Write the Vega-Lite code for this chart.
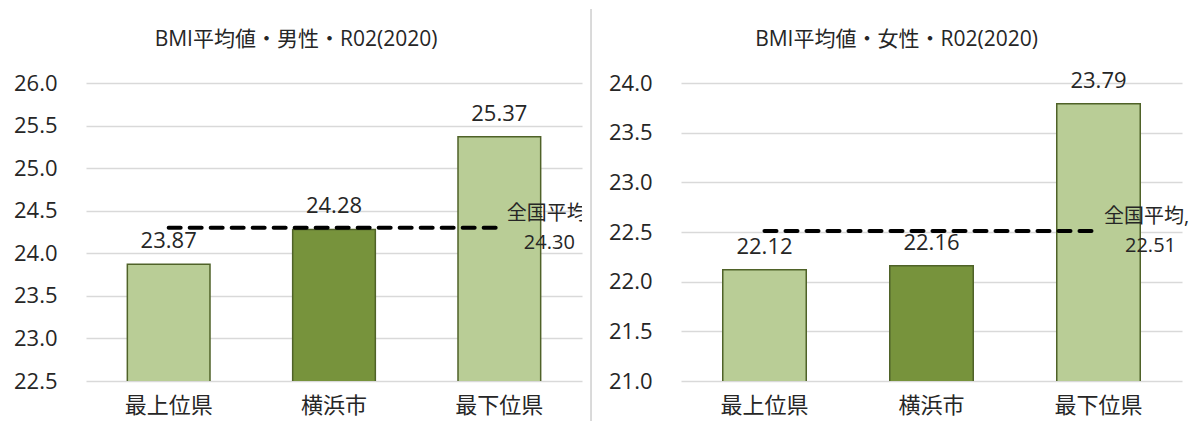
{
  "$schema": "https://vega.github.io/schema/vega-lite/v6.json",
  "autosize": {"type": "pad"},
  "padding": {"left": 13, "top": 8, "right": 0, "bottom": 0},
  "bounds": "flush",
  "spacing": 99,
  "config": {
    "font": "Open Sans, 'Noto Sans CJK JP'",
    "view": {"stroke": null},
    "axis": {"labelColor": "#262626", "domain": false, "ticks": false, "gridColor": "#D9D9D9", "gridWidth": 1.5, "labelFont": "Open Sans, 'Noto Sans CJK JP'"},
    "axisY": {"labelFontSize": 22, "labelPadding": 29, "grid": true},
    "axisX": {"labelFontSize": 22, "labelPadding": 14, "labelAngle": 0, "grid": false},
    "title": {"fontSize": 21, "fontWeight": "normal", "color": "#262626", "font": "Open Sans, 'Noto Sans CJK JP'", "baseline": "alphabetic"}
  },
  "hconcat": [
    {
      "width": 496,
      "height": 298,
      "title": {"text": "BMI平均値・男性・R02(2020)", "dx": -38, "offset": -42},
      "data": {"values": [
        {"cat": "最上位県", "value": 23.87, "avg": 24.30},
        {"cat": "横浜市", "value": 24.28, "avg": 24.30},
        {"cat": "最下位県", "value": 25.37, "avg": 24.30}
      ]},
      "resolve": {"scale": {"x": "independent"}},
      "layer": [
        {
          "encoding": {
            "x": {"field": "cat", "type": "nominal", "sort": ["最上位県", "横浜市", "最下位県"], "scale": {"paddingInner": 0.5, "paddingOuter": 0.25}, "title": null}
          },
          "layer": [
            {
              "mark": {"type": "bar", "stroke": "#4F6228", "strokeWidth": 1.5, "clip": true},
              "encoding": {
                "y": {"field": "value", "type": "quantitative", "scale": {"domain": [22.5, 26], "nice": false, "zero": false}, "axis": {"format": ".1f", "tickCount": 8}, "title": null},
                "color": {"field": "cat", "type": "nominal", "scale": {"domain": ["最上位県", "横浜市", "最下位県"], "range": ["#B9CD96", "#77933C", "#B9CD96"]}, "legend": null}
              }
            },
            {
              "mark": {"type": "text", "baseline": "alphabetic", "dy": -16, "fontSize": 22, "color": "#262626"},
              "encoding": {
                "y": {"field": "value", "type": "quantitative", "title": null},
                "text": {"field": "value", "type": "quantitative", "format": ".2f"}
              }
            },
            {
              "mark": {"type": "line", "strokeDash": [12, 9], "strokeCap": "round", "strokeWidth": 4, "color": "#000000"},
              "encoding": {
                "y": {"field": "avg", "type": "quantitative", "title": null}
              }
            },
            {
              "transform": [{"filter": {"field": "cat", "equal": "最下位県"}}],
              "mark": {"type": "text", "dx": 50, "dy": -14, "fontSize": 20, "color": "#262626", "clip": true},
              "encoding": {
                "y": {"field": "avg", "type": "quantitative", "title": null},
                "text": {"value": "全国平均,"}
              }
            },
            {
              "transform": [{"filter": {"field": "cat", "equal": "最下位県"}}],
              "mark": {"type": "text", "dx": 50, "dy": 15, "fontSize": 20, "color": "#262626", "clip": true},
              "encoding": {
                "y": {"field": "avg", "type": "quantitative", "title": null},
                "text": {"field": "avg", "type": "quantitative", "format": ".2f"}
              }
            }
          ]
        },
        {
          "mark": {"type": "rule", "color": "#D9D9D9", "strokeWidth": 1.5},
          "encoding": {
            "x": {"datum": 1, "type": "quantitative", "scale": {"domain": [0, 0.982]}, "axis": null},
            "y": {"datum": 26.87, "type": "quantitative", "scale": {"domain": [22.5, 26], "nice": false, "zero": false}},
            "y2": {"datum": 22.03}
          }
        }
      ]
    },
    {
      "width": 501,
      "height": 298,
      "title": {"text": "BMI平均値・女性・R02(2020)", "dx": -35, "offset": 20},
      "data": {"values": [
        {"cat": "最上位県", "value": 22.12, "avg": 22.51},
        {"cat": "横浜市", "value": 22.16, "avg": 22.51},
        {"cat": "最下位県", "value": 23.79, "avg": 22.51}
      ]},
      "encoding": {
        "x": {"field": "cat", "type": "nominal", "sort": ["最上位県", "横浜市", "最下位県"], "scale": {"paddingInner": 0.5, "paddingOuter": 0.25}, "title": null}
      },
      "layer": [
        {
          "mark": {"type": "bar", "stroke": "#4F6228", "strokeWidth": 1.5, "clip": true},
          "encoding": {
            "y": {"field": "value", "type": "quantitative", "scale": {"domain": [21, 24], "nice": false, "zero": false}, "axis": {"format": ".1f", "tickCount": 7}, "title": null},
            "color": {"field": "cat", "type": "nominal", "scale": {"domain": ["最上位県", "横浜市", "最下位県"], "range": ["#B9CD96", "#77933C", "#B9CD96"]}, "legend": null}
          }
        },
        {
          "mark": {"type": "text", "baseline": "alphabetic", "dy": -16, "fontSize": 22, "color": "#262626"},
          "encoding": {
            "y": {"field": "value", "type": "quantitative", "title": null},
            "text": {"field": "value", "type": "quantitative", "format": ".2f"}
          }
        },
        {
          "mark": {"type": "line", "strokeDash": [12, 9], "strokeCap": "round", "strokeWidth": 4, "color": "#000000"},
          "encoding": {
            "y": {"field": "avg", "type": "quantitative", "title": null}
          }
        },
        {
          "transform": [{"filter": {"field": "cat", "equal": "最下位県"}}],
          "mark": {"type": "text", "dx": 48, "dy": -14, "fontSize": 20, "color": "#262626"},
          "encoding": {
            "y": {"field": "avg", "type": "quantitative", "title": null},
            "text": {"value": "全国平均,"}
          }
        },
        {
          "transform": [{"filter": {"field": "cat", "equal": "最下位県"}}],
          "mark": {"type": "text", "dx": 52, "dy": 15, "fontSize": 20, "color": "#262626"},
          "encoding": {
            "y": {"field": "avg", "type": "quantitative", "title": null},
            "text": {"field": "avg", "type": "quantitative", "format": ".2f"}
          }
        }
      ]
    }
  ]
}
